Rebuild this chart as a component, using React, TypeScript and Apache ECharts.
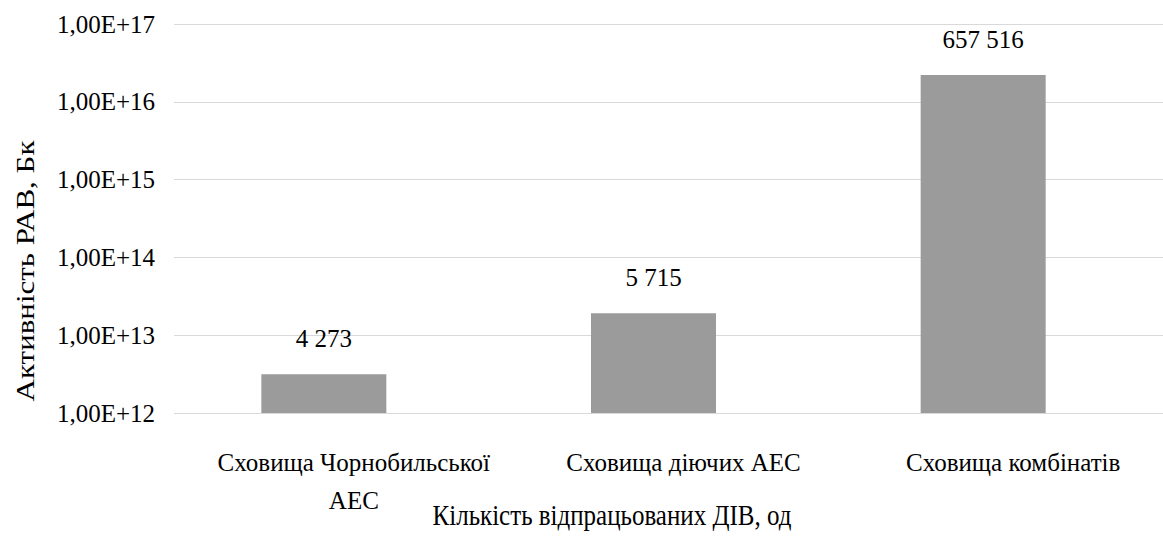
import React, { useEffect, useRef } from "react";
import * as echarts from "echarts";

const categories = ["Сховища Чорнобильської\nАЕС", "Сховища діючих АЕС", "Сховища комбінатів"];
const activity = [3.15e12, 1.92e13, 2.21e16];
const counts = ["4 273", "5 715", "657 516"];
const yAxisTitle = "Активність РАВ, Бк";
const xAxisTitle = "Кількість відпрацьованих ДІВ, од";

const FONT = "Liberation Serif";

export default function App() {
  const ref = useRef<HTMLDivElement>(null);
  useEffect(() => {
    if (!ref.current) return;
    const chart = echarts.init(ref.current, undefined, { renderer: "svg" });
    chart.setOption({
      animation: false,
      backgroundColor: "#ffffff",
      textStyle: { fontFamily: FONT },
      grid: { left: 174, right: -4, top: 24, bottom: 124 },
      xAxis: {
        type: "category",
        data: categories,
        axisLine: { show: false },
        axisTick: { show: false },
        axisLabel: {
          fontFamily: FONT,
          fontSize: 25,
          color: "#000",
          lineHeight: 38,
          margin: 30,
          interval: 0,
          padding: [0, 0, 0, 30],
        },
      },
      yAxis: {
        type: "log",
        logBase: 10,
        min: 1e12,
        max: 1e17,
        axisLine: { show: false },
        axisTick: { show: false },
        splitLine: { lineStyle: { color: "#d9d9d9", width: 1 } },
        axisLabel: {
          fontFamily: FONT,
          fontSize: 25,
          color: "#000",
          margin: 19,
          formatter: (v: number) => "1,00E+" + Math.round(Math.log10(v)),
        },
      },
      graphic: [
        {
          type: "text",
          x: 26,
          y: 271,
          rotation: Math.PI / 2,
          scaleX: 1.24,
          style: {
            text: yAxisTitle,
            fontFamily: FONT,
            fontSize: 25,
            fill: "#000",
            align: "center",
            verticalAlign: "middle",
          },
        },
        {
          type: "text",
          x: 612,
          y: 515,
          scaleY: 1.17,
          style: {
            text: xAxisTitle,
            fontFamily: FONT,
            fontSize: 25,
            fill: "#000",
            align: "center",
            verticalAlign: "middle",
          },
        },
      ],
      series: [
        {
          type: "bar",
          data: activity,
          barWidth: 125,
          barGap: "-76%",
          itemStyle: { color: "#9b9b9b" },
          label: {
            show: true,
            position: "top",
            distance: 23,
            fontFamily: FONT,
            fontSize: 25,
            color: "#000",
            formatter: (p: any) => counts[p.dataIndex],
          },
        },
        {
          type: "bar",
          data: [null, null, null],
          barWidth: 125,
          barGap: "-76%",
          itemStyle: { color: "#9b9b9b" },
        },
      ],
    });
    return () => chart.dispose();
  }, []);
  return (
    <div
      ref={ref}
      style={{ position: "fixed", left: 0, top: 0, width: 1163, height: 537 }}
    />
  );
}
